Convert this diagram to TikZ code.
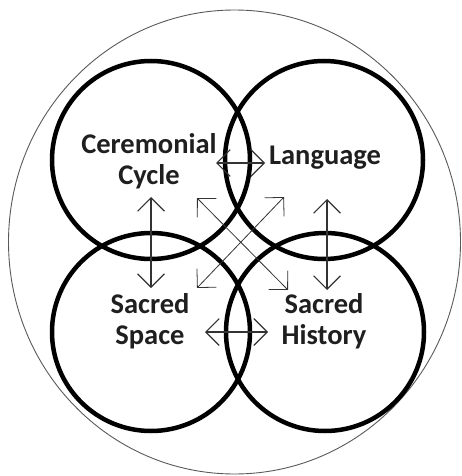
\documentclass[tikz,border=0pt]{standalone}
\usepackage{fontspec}
\setmainfont{Carlito}
\usetikzlibrary{arrows.meta}

\begin{document}
\begin{tikzpicture}[x=1pt,y=-1pt,
  rim/.style={line width=0.9pt,black!65},
  ring/.style={circle,draw,line width=4.5pt,minimum size=198pt,inner sep=0pt},
  areatext/.style={align=center,inner sep=0pt,text=black!88,
    font=\bfseries\fontsize{28.5}{31}\selectfont},
  link/.style={line width=1.1pt,black!80,
    {Straight Barb[angle=90:19pt]}-{Straight Barb[angle=90:19pt]}}]
  \useasboundingbox (0,0) rectangle (461,476);
  % outer boundary
  \draw[rim] (234.5,242) ellipse [x radius=226, y radius=232];
  % the four overlapping circles
  \node[ring] (ccR) at (151,160) {};
  \node[ring] (laR) at (324,160) {};
  \node[ring] (ssR) at (151,332) {};
  \node[ring] (shR) at (325,332) {};
  % labels
  \node[areatext] (cc) at (149,161) {Ceremonial\\Cycle};
  \node[areatext] (la) at (325,158) {Language};
  \node[areatext] (ss) at (150,321) {Sacred\\Space};
  \node[areatext] (sh) at (324,321) {Sacred\\History};
  % arrow ends
  \coordinate (CLw) at (216,163);
  \coordinate (CLe) at (265,163);
  \coordinate (SHw) at (205,332);
  \coordinate (SHe) at (268,332);
  \coordinate (CSn) at (151,197);
  \coordinate (CSs) at (151,288);
  \coordinate (LHn) at (327,199);
  \coordinate (LHs) at (327,290);
  \coordinate (CHa) at (197,198);
  \coordinate (CHb) at (288,290);
  \coordinate (LSa) at (284,197);
  \coordinate (LSb) at (197,288);
  % relations
  \draw[link] (CLw) -- (CLe);
  \draw[link] (SHw) -- (SHe);
  \draw[link] (CSn) -- (CSs);
  \draw[link] (LHn) -- (LHs);
  \draw[link,line width=0.8pt] (CHa) -- (CHb);
  \draw[link,line width=0.8pt] (LSa) -- (LSb);
\end{tikzpicture}
\end{document}
